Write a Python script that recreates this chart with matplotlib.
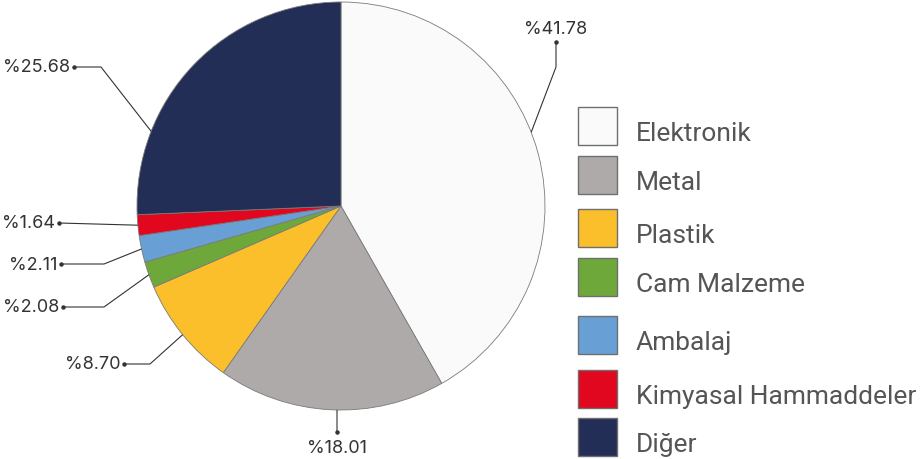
import numpy as np
import matplotlib.pyplot as plt
from matplotlib.patches import Rectangle

plt.rcParams['font.family'] = ['Inter', 'DejaVu Sans']

# data
categories = ['Elektronik', 'Metal', 'Plastik', 'Cam Malzeme', 'Ambalaj',
              'Kimyasal Hammaddeler', 'Diğer']
values = [41.78, 18.01, 8.70, 2.08, 2.11, 1.64, 25.68]
colors = ['#FAFAFA', '#AEAAA9', '#FBBF2C', '#6EA83B', '#689FD5', '#E0071F', '#222E55']

W, H = 921, 460
def py(y):
    # pixel row -> data y
    return H - y

fig = plt.figure(figsize=(W / 100, H / 100), dpi=100)
ax = fig.add_axes([0, 0, 1, 1])

cx, cy, R = 341, py(207), 204
wedges, _ = ax.pie(values, colors=colors, startangle=90, counterclock=False,
                   center=(cx, cy), radius=R,
                   wedgeprops=dict(edgecolor='#7a7a7a', linewidth=0.6))

# label layout: angle shift from wedge middle, elbow point, dot point, text pos
layout = [
    dict(shift=6.4, elbow=(556, 68), dot=(556, 43), txt=(556, 30), ha='center'),
    dict(shift=1.7, elbow=None, dot=(337, 433), txt=(337, 449), ha='center'),
    dict(shift=0, elbow=(150, 365), dot=(124, 365), txt=(120, 365), ha='right'),
    dict(shift=0, elbow=(104, 308), dot=(63, 308), txt=(59, 308), ha='right'),
    dict(shift=0, elbow=(104, 265), dot=(61, 265), txt=(57, 265), ha='right'),
    dict(shift=0, elbow=None, dot=(59, 224), txt=(55, 224), ha='right'),
    dict(shift=22.3, elbow=(101, 68), dot=(74, 68), txt=(70, 68), ha='right'),
]

for w, v, lay in zip(wedges, values, layout):
    ang = np.deg2rad((w.theta1 + w.theta2) / 2 + lay['shift'])
    ax_, ay_ = cx + R * np.cos(ang), cy + R * np.sin(ang)
    xs, ys = [ax_], [ay_]
    if lay['elbow'] is not None:
        xs.append(lay['elbow'][0]); ys.append(py(lay['elbow'][1]))
    xs.append(lay['dot'][0]); ys.append(py(lay['dot'][1]))
    ax.plot(xs, ys, color='#333333', lw=0.8, solid_capstyle='butt')
    ax.plot(xs[-1], ys[-1], 'o', color='#333333', ms=2.2)
    ax.text(lay['txt'][0], py(lay['txt'][1]), f'%{v:.2f}', ha=lay['ha'],
            va='center', fontsize=13, color='#333333')

# legend
box_tops = [108, 157, 210, 259, 317, 371, 419]
for name, col, top in zip(categories, colors, box_tops):
    ax.add_patch(Rectangle((578, py(top + 38)), 39, 38, facecolor=col,
                           edgecolor='#6f6f6f', lw=1))
    ax.text(636, py(top + 33), name, ha='left', va='baseline',
            fontsize=19, color='#555555', family=['Roboto', 'DejaVu Sans'])

ax.set_xlim(0, W)
ax.set_ylim(0, H)
ax.set_aspect('equal')
ax.axis('off')

fig.savefig('out.png', dpi=100)
